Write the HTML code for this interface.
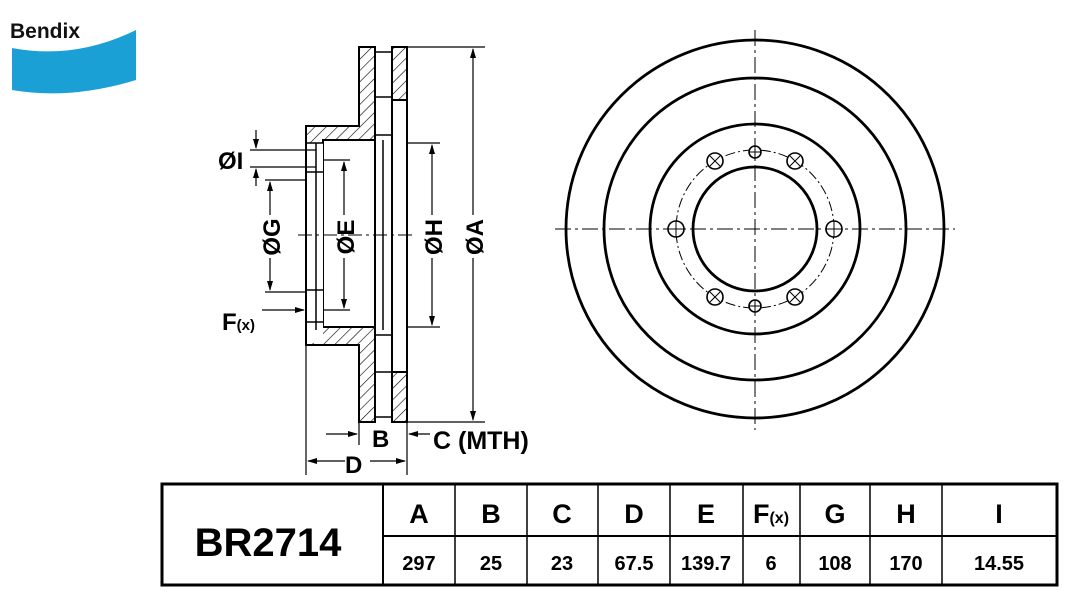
<!DOCTYPE html>
<html><head><meta charset="utf-8"><style>
body{margin:0;background:#fff;width:1077px;height:610px;overflow:hidden;font-family:"Liberation Sans",Arial,sans-serif}
.n{font-family:"Liberation Sans Narrow","Liberation Sans",sans-serif}
</style></head><body>
<svg width="1077" height="610" viewBox="0 0 1077 610" xmlns="http://www.w3.org/2000/svg">
<defs>
<pattern id="h" width="8" height="8" patternUnits="userSpaceOnUse" patternTransform="rotate(45)">
<rect width="8" height="8" fill="#fff"/><line x1="0" y1="0" x2="0" y2="8" stroke="#000" stroke-width="1.2"/></pattern>
<marker id="ar" markerWidth="10" markerHeight="8" refX="9" refY="4" orient="auto" markerUnits="userSpaceOnUse"><path d="M0,1 L10,4 L0,7z" fill="#000"/></marker>
</defs>
<!-- logo -->
<text x="10" y="38" font-size="21" font-weight="bold" fill="#111">Bendix</text>
<path d="M12,48 Q75,60 136,30 L136,80 Q70,100 12,90 Z" fill="#1aa0d4"/>

<g stroke="#000" fill="none" stroke-width="2">
<path d="M359,47 L375,47 L375,140 L323,140 L323,327 L375,327 L375,422 L359,422 L359,345 L306,345 L306,126 L359,126 Z" fill="url(#h)"/>
<rect x="323" y="140" width="52" height="187" fill="#fff"/>
<rect x="306" y="143" width="17" height="200" fill="#fff" stroke="none"/>
<line x1="306" y1="126" x2="306" y2="345"/>
<line x1="316" y1="143" x2="316" y2="330" stroke-width="1.5"/>
<path d="M306,143 L323,143 M306,172 L323,172 M306,290 L323,290 M306,322 L323,322" stroke-width="1.5"/>
<rect x="392" y="47" width="15" height="53" fill="url(#h)"/>
<rect x="392" y="372" width="15" height="50" fill="url(#h)"/>
<line x1="392" y1="100" x2="392" y2="372"/>
<line x1="407" y1="100" x2="407" y2="372"/>
<path d="M375,52 L392,52 M375,97 L392,97 M375,135 L392,135 M375,335 L392,335 M375,372 L392,372 M375,417 L392,417" stroke-width="1.5"/>
<line x1="383" y1="140" x2="383" y2="330" stroke-width="1.5"/>
</g>
<line x1="298" y1="235" x2="415" y2="235" stroke="#000" stroke-width="1" stroke-dasharray="14,4,3,4"/>
<g stroke="#000" stroke-width="1.2" fill="none">
<line x1="407" y1="47" x2="485" y2="47"/><line x1="407" y1="422" x2="485" y2="422"/>
<line x1="473" y1="215" x2="473" y2="49" marker-end="url(#ar)"/><line x1="473" y1="258" x2="473" y2="420" marker-end="url(#ar)"/>
<line x1="407" y1="143" x2="440" y2="143"/><line x1="407" y1="327" x2="440" y2="327"/>
<line x1="432" y1="215" x2="432" y2="145" marker-end="url(#ar)"/><line x1="432" y1="258" x2="432" y2="325" marker-end="url(#ar)"/>
<line x1="323" y1="160" x2="350" y2="160"/><line x1="323" y1="310" x2="350" y2="310"/>
<line x1="344" y1="215" x2="344" y2="162" marker-end="url(#ar)"/><line x1="344" y1="258" x2="344" y2="308" marker-end="url(#ar)"/>
<line x1="265" y1="180" x2="306" y2="180"/><line x1="265" y1="292" x2="306" y2="292"/>
<line x1="270" y1="215" x2="270" y2="182" marker-end="url(#ar)"/><line x1="270" y1="258" x2="270" y2="290" marker-end="url(#ar)"/>
<line x1="250" y1="150" x2="316" y2="150"/><line x1="250" y1="167" x2="316" y2="167"/>
<line x1="256" y1="130" x2="256" y2="148" marker-end="url(#ar)"/><line x1="256" y1="186" x2="256" y2="169" marker-end="url(#ar)"/>
<line x1="262" y1="310" x2="304" y2="310" marker-end="url(#ar)"/>
<line x1="306" y1="345" x2="306" y2="475"/><line x1="359" y1="422" x2="359" y2="445"/><line x1="407" y1="422" x2="407" y2="475"/>
<line x1="326" y1="434" x2="357" y2="434" marker-end="url(#ar)"/><line x1="430" y1="434" x2="409" y2="434" marker-end="url(#ar)"/>
<line x1="345" y1="461" x2="308" y2="461" marker-end="url(#ar)"/><line x1="370" y1="461" x2="405" y2="461" marker-end="url(#ar)"/>
</g>
<g font-weight="bold" font-size="24" fill="#000">
<text transform="translate(483,237) rotate(-90)" text-anchor="middle">ØA</text>
<text transform="translate(442,237) rotate(-90)" text-anchor="middle">ØH</text>
<text transform="translate(354,237) rotate(-90)" text-anchor="middle">ØE</text>
<text transform="translate(280,237) rotate(-90)" text-anchor="middle">ØG</text>
<text x="218" y="169">ØI</text>
<text x="222" y="330">F<tspan font-size="15">(x)</tspan></text>
<text x="372" y="447">B</text>
<text x="433" y="449" font-size="25">C (MTH)</text>
<text x="345" y="473">D</text>
</g>

<g stroke="#000" fill="none" stroke-width="2.8">
<circle cx="755" cy="229" r="189"/>
<circle cx="755" cy="229" r="151"/>
<circle cx="755" cy="229" r="105"/>
<circle cx="755" cy="229" r="62"/>
</g>
<circle cx="755" cy="229" r="79" stroke="#000" fill="none" stroke-width="1" stroke-dasharray="10,3,2,3"/>
<g stroke="#000" stroke-width="1" stroke-dasharray="16,4,3,4">
<line x1="555" y1="229" x2="955" y2="229"/><line x1="755" y1="30" x2="755" y2="430"/>
</g>
<g stroke="#000" fill="#fff" stroke-width="1.6">
<circle cx="834" cy="229" r="8"/><circle cx="676" cy="229" r="8"/>
<circle cx="795" cy="161" r="8"/><circle cx="715" cy="161" r="8"/>
<circle cx="795" cy="297" r="8"/><circle cx="715" cy="297" r="8"/>
<circle cx="755" cy="152" r="6"/><circle cx="755" cy="306" r="6"/>
</g>
<g stroke="#000" stroke-width="1">
<path d="M826,229h16M834,221v16M668,229h16M676,221v16M749,152h12M755,146v12M749,306h12M755,300v12"/>
<path d="M790,156l10,10M800,156l-10,10M710,156l10,10M720,156l-10,10M790,292l10,10M800,292l-10,10M710,292l10,10M720,292l-10,10"/>
</g>

<g stroke="#000" fill="none">
<rect x="162" y="484" width="895" height="101" stroke-width="3"/>
<line x1="383" y1="484" x2="383" y2="585" stroke-width="2"/>
<line x1="383" y1="536" x2="1057" y2="536" stroke-width="2"/>
<g stroke-width="1.5">
<line x1="455" y1="484" x2="455" y2="585"/><line x1="527" y1="484" x2="527" y2="585"/>
<line x1="598" y1="484" x2="598" y2="585"/><line x1="670" y1="484" x2="670" y2="585"/>
<line x1="743" y1="484" x2="743" y2="585"/><line x1="800" y1="484" x2="800" y2="585"/>
<line x1="870" y1="484" x2="870" y2="585"/><line x1="942" y1="484" x2="942" y2="585"/>
</g></g>
<text class="n" x="268" y="556" text-anchor="middle" font-size="40" font-weight="bold">BR2714</text>
<g class="n" font-size="27" font-weight="bold" text-anchor="middle">
<text x="419" y="523">A</text><text x="491" y="523">B</text><text x="562" y="523">C</text>
<text x="634" y="523">D</text><text x="706" y="523">E</text><text x="771" y="523">F<tspan font-size="16">(x)</tspan></text>
<text x="835" y="523">G</text><text x="906" y="523">H</text><text x="999" y="523">I</text>
</g>
<g class="n" font-size="20" font-weight="bold" text-anchor="middle">
<text x="419" y="570">297</text><text x="491" y="570">25</text><text x="562" y="570">23</text>
<text x="634" y="570">67.5</text><text x="706" y="570">139.7</text><text x="771" y="570">6</text>
<text x="835" y="570">108</text><text x="906" y="570">170</text><text x="999" y="570">14.55</text>
</g>
</svg>
</body></html>
